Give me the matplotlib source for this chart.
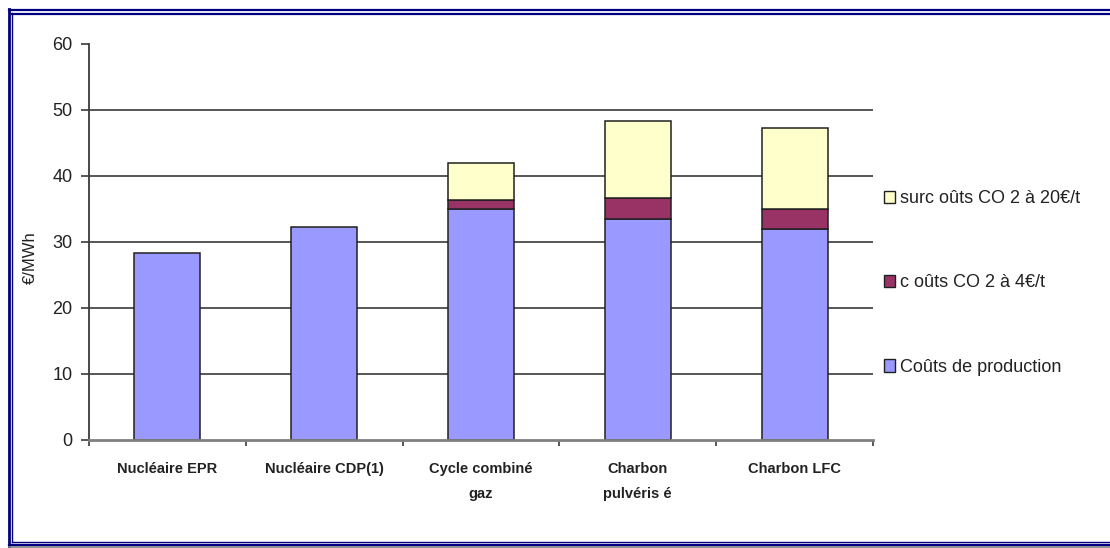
import matplotlib
matplotlib.use("Agg")
import matplotlib.pyplot as plt
from matplotlib.lines import Line2D
from matplotlib.patches import Patch
import numpy as np

plt.rcParams["font.family"] = ["Liberation Sans", "DejaVu Sans"]

# ---- data -------------------------------------------------------------------
categories = ["Nucléaire EPR", "Nucléaire CDP(1)", "Cycle combiné\ngaz",
              "Charbon\npulvéris é", "Charbon LFC"]
production = [28.4, 32.2, 35.0, 33.5, 32.0]
co2_4 = [0.0, 0.0, 1.4, 3.2, 3.0]
co2_20 = [0.0, 0.0, 5.6, 11.7, 12.2]
series_labels = ["Coûts de production", "c oûts CO 2 à 4€/t", "surc oûts CO 2 à 20€/t"]
yticks = [0, 10, 20, 30, 40, 50, 60]

COL = {"prod": "#9999FF", "co2_4": "#993366", "co2_20": "#FFFFCC",
       "navy": "#000080", "grid": "#3a3a3a", "axis": "#808080"}

W, H = 1110, 548
fig = plt.figure(figsize=(W / 100, H / 100), dpi=100)
ax = fig.add_axes([89 / W, 1 - 440 / H, (873 - 89) / W, (440 - 44) / H])

x = np.arange(len(categories))
bw = 0.42
prod = np.array(production)
c4 = np.array(co2_4)
c20 = np.array(co2_20)
kw = dict(width=bw, edgecolor="#202020", linewidth=1.1, zorder=3)
ax.bar(x, prod, color=COL["prod"], **kw)
b2 = ax.bar(x, c4, bottom=prod, color=COL["co2_4"], **kw)
b3 = ax.bar(x, c20, bottom=prod + c4, color=COL["co2_20"], **kw)
# hide zero-height segments on nuclear bars
for bars, vals in ((b2, c4), (b3, c20)):
    for r, v in zip(bars, vals):
        if v == 0:
            r.set_visible(False)

ax.set_xlim(-0.5, len(categories) - 0.5)
ax.set_ylim(0, 60)
for v in yticks[1:-1]:
    ax.axhline(v, color=COL["grid"], lw=1.2, zorder=1)

ax.set_yticks(yticks)
ax.set_yticklabels([str(v) for v in yticks], fontsize=13, color="#222222")
ax.tick_params(axis="y", direction="out", length=6, width=1.2, color=COL["grid"], pad=6)

ax.set_xticks(x)
ax.set_xticklabels(categories, fontsize=10.5, fontweight="bold", color="#222222",
                   linespacing=1.95)
ax.set_xticks(np.arange(-0.5, len(categories)), minor=True)
ax.tick_params(axis="x", which="major", length=0, pad=16)
ax.tick_params(axis="x", which="minor", direction="out", length=4, width=1.2,
               color=COL["grid"])

for s in ("top", "right"):
    ax.spines[s].set_visible(False)
ax.spines["left"].set_color(COL["grid"])
ax.spines["left"].set_linewidth(1.3)
ax.spines["bottom"].set_color(COL["axis"])
ax.spines["bottom"].set_linewidth(2.0)
ax.spines["bottom"].set_zorder(4)

fig.text(30 / W, 1 - 258 / H, "€/MWh", rotation=90, ha="center", va="center",
         fontsize=12, color="#222222")

# legend (yellow on top)
fills = [COL["co2_20"], COL["co2_4"], COL["prod"]]
handles = [Patch(facecolor=c, edgecolor="#202020", linewidth=1.0) for c in fills]
labels = series_labels[::-1]
leg = fig.legend(handles, labels, loc="upper left",
                 bbox_to_anchor=(877 / W, 1 - 183 / H), frameon=False,
                 fontsize=13, handlelength=0.6, handleheight=0.7,
                 handletextpad=0.3, labelspacing=3.72, borderaxespad=0)
for t in leg.get_texts():
    t.set_color("#222222")

# double navy frame
def hline(y, lw, color=COL["navy"], x0=8.7):
    fig.add_artist(Line2D([x0 / W, 1], [1 - y / H, 1 - y / H], color=color, lw=lw,
                          transform=fig.transFigure))

def vline(xp, lw, y0, y1):
    fig.add_artist(Line2D([xp / W, xp / W], [1 - y0 / H, 1 - y1 / H],
                          color=COL["navy"], lw=lw, transform=fig.transFigure))

hline(10, 1.6)
hline(13.7, 1.6, x0=12)
vline(8.7, 2.0, 9, 546)
vline(12.0, 1.0, 13, 542)
hline(541.5, 1.0, x0=12)
hline(544.5, 1.6)
hline(547, 1.2, color="#808080")

fig.savefig("out.png", dpi=100)
